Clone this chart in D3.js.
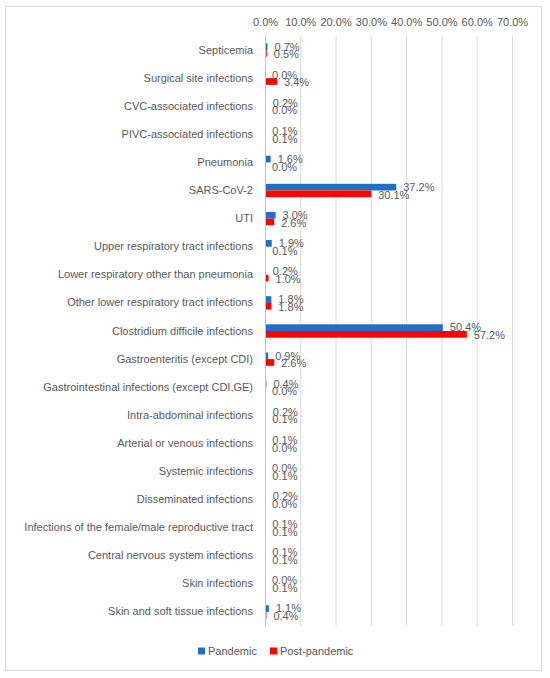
<!DOCTYPE html>
<html>
<head>
<meta charset="utf-8">
<script src="https://cdn.jsdelivr.net/npm/d3@7"></script>
<style>
  body { margin:0; background:#fff; }
  text { font-family: "Liberation Sans", Arial, sans-serif; fill:#595959; }
</style>
</head>
<body>
<svg id="chart"></svg>
<script>
      var width = 550;
      var height = 678;
      var margin = {top:36,left:265,right:38,bottom:52};

      // data
      var categories = [
        'Septicemia','Surgical site infections','CVC-associated infections','PIVC-associated infections',
        'Pneumonia','SARS-CoV-2','UTI','Upper respiratory tract infections',
        'Lower respiratory other than pneumonia','Other lower respiratory tract infections',
        'Clostridium difficile infections','Gastroenteritis (except CDI)',
        'Gastrointestinal infections (except CDI,GE)','Intra-abdominal infections',
        'Arterial or venous infections','Systemic infections','Disseminated infections',
        'Infections of the female/male reproductive tract','Central nervous system infections',
        'Skin infections','Skin and soft tissue infections'
      ];
      var pandemic     = [0.7,0.0,0.2,0.1,1.6,37.2,3.0,1.9,0.2,1.8,50.4,0.9,0.4,0.2,0.1,0.0,0.2,0.1,0.1,0.0,1.1];
      var postPandemic = [0.5,3.4,0.0,0.1,0.0,30.1,2.6,0.1,1.0,1.8,57.2,2.6,0.0,0.1,0.0,0.1,0.0,0.1,0.1,0.1,0.4];
      var seriesNames = ['Pandemic','Post-pandemic'];
      var tickValues = [0,10,20,30,40,50,60,70];

      var colors = ['#1f6fc5','#ff0000'];

      var svg = d3.select('#chart').attr('width',width).attr('height',height);

      // outer chart border
      svg.append('rect').attr('x',5.5).attr('y',6.5).attr('width',536).attr('height',664)
         .attr('fill','#fff').attr('stroke','#d9d9d9');

      var xscale = d3.scaleLinear().domain([0,70]).range([margin.left,width-margin.right]);
      var yscale = d3.scaleBand().domain(categories).range([margin.top,height-margin.bottom]);
      var inner = d3.scaleBand().domain(seriesNames).range([0,yscale.bandwidth()]).paddingOuter(1.1);

      // gridlines
      svg.append('g').selectAll('line').data(tickValues.slice(1)).enter().append('line')
        .attr('x1',function(d){return xscale(d)+0.5}).attr('x2',function(d){return xscale(d)+0.5})
        .attr('y1',margin.top).attr('y2',height-margin.bottom)
        .attr('stroke','#d9d9d9');

      // top axis labels
      var xaxis = d3.axisTop(xscale).tickValues(tickValues).tickSize(0).tickPadding(0)
        .tickFormat(function(d){return d.toFixed(1)+'%'});
      var gx = svg.append('g').attr('transform','translate(0,'+(margin.top-10)+')').call(xaxis);
      gx.select('.domain').remove();
      gx.selectAll('text').attr('font-size','11px').attr('fill','#595959')
        .style('font-family','"Liberation Sans", Arial, sans-serif');

      // category axis
      var yaxis = d3.axisLeft(yscale).tickSize(0).tickPadding(12);
      var gy = svg.append('g').attr('transform','translate('+margin.left+',0)').call(yaxis);
      gy.select('.domain').remove();
      gy.selectAll('text').attr('font-size','11px').attr('fill','#595959')
        .style('font-family','"Liberation Sans", Arial, sans-serif');

      var rows = categories.map(function(c,i){
        return {cat:c, values:[{s:seriesNames[0],v:pandemic[i]},{s:seriesNames[1],v:postPandemic[i]}]};
      });

      var groups = svg.append('g').selectAll('g').data(rows).enter().append('g')
        .attr('transform',function(d){return 'translate(0,'+yscale(d.cat)+')'});

      groups.selectAll('rect').data(function(d){return d.values}).enter().append('rect')
        .attr('x',xscale(0))
        .attr('y',function(d){return inner(d.s)})
        .attr('height',inner.bandwidth())
        .attr('width',function(d){return xscale(d.v)-xscale(0)})
        .attr('fill',function(d,i){return colors[i]});

      groups.selectAll('text').data(function(d){return d.values}).enter().append('text')
        .attr('x',function(d){return xscale(d.v)+7})
        .attr('y',function(d,i){return inner(d.s)+inner.bandwidth()/2+(i==0?0:1)})
        .attr('dy','0.35em')
        .attr('font-size','11px')
        .text(function(d){return d.v.toFixed(1)+'%'});

      // zero axis line
      svg.append('line').attr('x1',xscale(0)+0.5).attr('x2',xscale(0)+0.5)
        .attr('y1',margin.top).attr('y2',height-margin.bottom).attr('stroke','#bfbfbf');

      // legend
      var legend = svg.append('g').attr('transform','translate(198,651)');
      var lx = [0,72];
      seriesNames.forEach(function(s,i){
        legend.append('rect').attr('x',lx[i]).attr('y',-3.5).attr('width',7).attr('height',7).attr('fill',colors[i]);
        legend.append('text').attr('x',lx[i]+10).attr('y',0).attr('dy','0.35em').attr('font-size','11px').text(s);
      });
</script>
</body>
</html>
